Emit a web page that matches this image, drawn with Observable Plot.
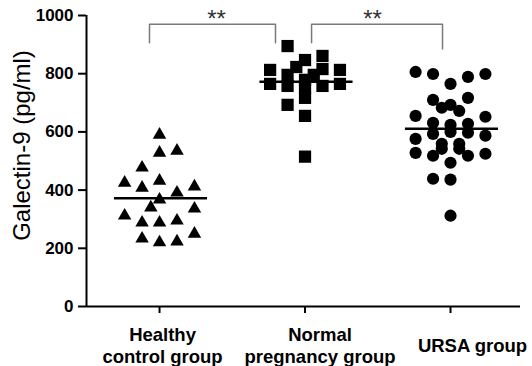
<!DOCTYPE html>
<html><head><meta charset="utf-8">
<script src="https://cdn.jsdelivr.net/npm/d3@7"></script>
<script src="https://cdn.jsdelivr.net/npm/@observablehq/plot@0.6"></script>
<style>html,body{margin:0;padding:0;background:#fff}</style>
</head><body><div id="chart"></div>
<script>
// ---- data ----
const groups = ["Healthy\ncontrol group", "Normal\npregnancy group", "URSA group"];
const healthyValues  = [590,528,535,477,425,408,432,412,391,367,340,336,312,288,288,295,250,233,220,223];
const healthyColumns = [0,0,1,-1,-2,-1,0,2,1,0,-0.5,2,-2,-1,0,1,2,-1,0,1];
const normalValues   = [895,847,861,823,816,813,813,796,796,779,765,765,758,751,758,717,693,655,515];
const normalColumns  = [-1,0,1,-0.5,1,-2,2,-1,0.5,0,-2,2,-1,0,1,0,-1,0,0];
const ursaValues     = [806,799,765,789,799,710,717,693,683,672,655,652,631,624,628,593,600,597,576,587,559,559,528,518,542,542,518,525,494,439,436,312];
const ursaColumns    = [-2,-1,0,1,2,-1,1,0,-0.5,0.5,-2,2,-1,0,1,-1,0,1,-2,2,-0.5,0.5,-2,-1,-0.5,0.5,1,2,0,-1,0,0];
const groupMeans = [372, 772, 611];
const yTicks = [0, 200, 400, 600, 800, 1000];
const yLabel = "Galectin-9 (pg/ml)";
const comparisons = [
  {from: -0.069, to: 0.797, top: 970, leftEnd: 906, rightEnd: 906, star: 0.392, text: "**"},
  {from: 1.045, to: 1.945, top: 970, leftEnd: 906, rightEnd: 885, star: 1.464, text: "**"}
];

// ---- build table ----
const colStep = 0.12;
const points = [];
[[healthyValues, healthyColumns, "triangle"], [normalValues, normalColumns, "square"], [ursaValues, ursaColumns, "circle"]]
  .forEach(([vals, cols, sym], g) => vals.forEach((v, i) => points.push({g, x: g + cols[i] * colStep, v, sym})));
const bracketLines = comparisons.flatMap((c, k) => [
  {k, x: c.from, y: c.leftEnd}, {k, x: c.from, y: c.top}, {k, x: c.to, y: c.top}, {k, x: c.to, y: c.rightEnd}
]);
const sizeBySym = {triangle: 5, square: 6.9, circle: 6.1};
const labelShift = [3, 15, 22];
const xDomain = [-0.502, 2.481];

const chart = Plot.plot({
  width: 532, height: 366,
  marginTop: 15, marginBottom: 60, marginLeft: 86, marginRight: 12,
  style: {fontFamily: "'Liberation Sans', Arial, sans-serif", background: "#fff", color: "black", overflow: "visible"},
  x: {domain: xDomain, axis: null},
  y: {domain: [0, 1000], axis: null},
  marks: [
    Plot.axisY({ticks: yTicks, tickFormat: d => String(d), tickSize: 8, tickPadding: 5, fontSize: 17, fontWeight: "bold", strokeWidth: 2, label: null, anchor: "left"}),
    Plot.ruleX([xDomain[0]], {y1: 0, y2: 1000, stroke: "black", strokeWidth: 2}),
    Plot.ruleY([0], {x1: xDomain[0], x2: xDomain[1], stroke: "black", strokeWidth: 2}),
    Plot.axisX({ticks: [0, 1, 2], tickSize: 7, strokeWidth: 2, tickFormat: () => "", label: null}),
    ...groups.map((g, i) => Plot.text([g], {x: () => i, y: () => 0, text: d => d, dx: labelShift[i], dy: 38,
      lineAnchor: "middle", lineHeight: 1.2, fontSize: 18.5, fontWeight: "bold", fill: "black"})),
    Plot.text([yLabel], {frameAnchor: "left", text: d => d, rotate: -90, dx: -64.5, dy: -15.5,
      textAnchor: "middle", lineAnchor: "middle", fontSize: 24, fill: "black"}),
    Plot.line(bracketLines, {x: "x", y: "y", z: "k", stroke: "#7a7a7a", strokeWidth: 1.5}),
    Plot.text(comparisons, {x: "star", y: () => 962, text: "text", lineAnchor: "bottom", fontSize: 24, fill: "#333"}),
    ...["triangle", "square", "circle"].map(s => Plot.dot(points.filter(p => p.sym === s),
      {x: "x", y: "v", symbol: () => s, r: sizeBySym[s], fill: "black", stroke: "none"})),
    Plot.ruleY(groupMeans, {y: d => d, x1: (d, i) => i - 0.31, x2: (d, i) => i + 0.33, stroke: "black", strokeWidth: 2.5})
  ]
});
document.getElementById("chart").appendChild(chart);
</script>
</body></html>
